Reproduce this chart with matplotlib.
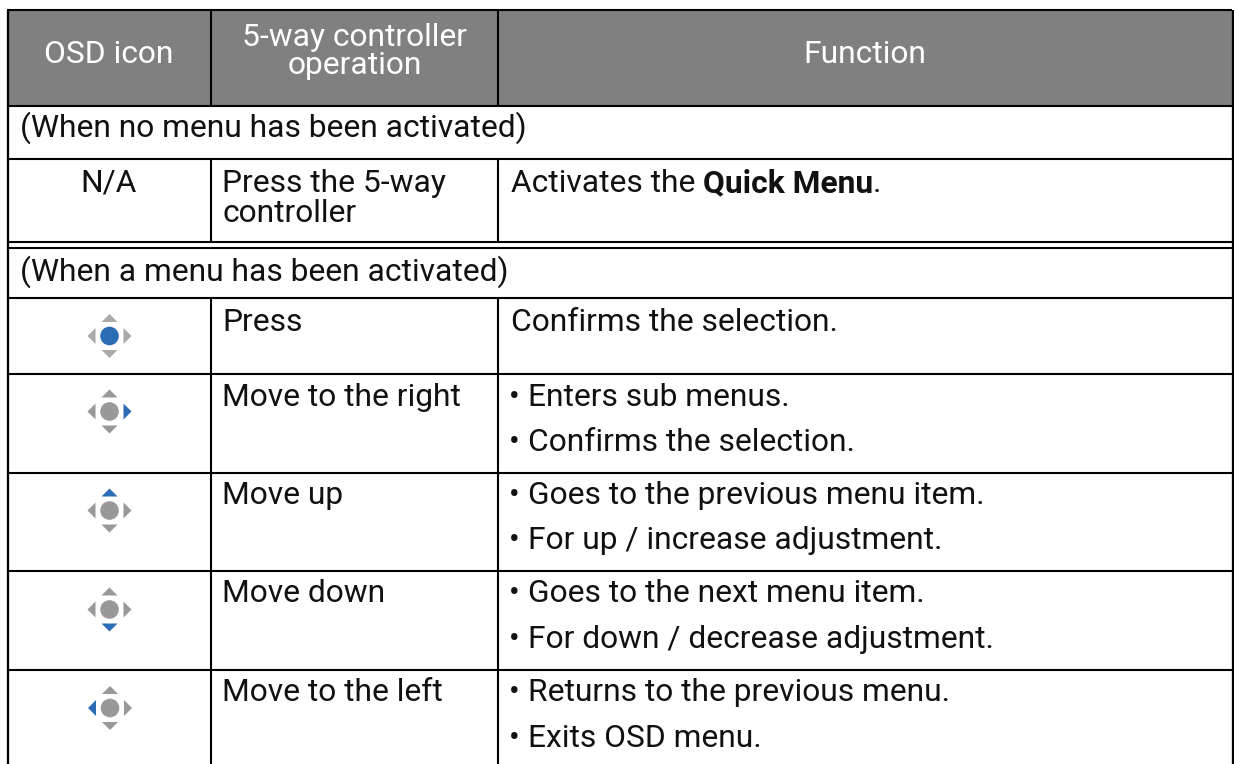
import matplotlib
matplotlib.use("Agg")
import matplotlib.pyplot as plt
from matplotlib.patches import Rectangle, Polygon, Circle

plt.rcParams["font.family"] = ["Roboto", "DejaVu Sans"]

W, H = 1234, 764
FS = 22.85

BLUE = "#2b6cb5"

# table text
header = ["OSD icon", "5-way controller\noperation", "Function"]
section_1 = "(When no menu has been activated)"
section_2 = "(When a menu has been activated)"
operations = ["Press", "Move to the right", "Move up", "Move down", "Move to the left"]
functions = [
    ["Confirms the selection."],
    ["Enters sub menus.", "Confirms the selection."],
    ["Goes to the previous menu item.", "For up / increase adjustment."],
    ["Goes to the next menu item.", "For down / decrease adjustment."],
    ["Returns to the previous menu.", "Exits OSD menu."],
]
active = ["center", "right", "up", "down", "left"]
icon_gray = ["#aaaaaa", "#999999", "#999999", "#999999", "#999999"]

# Grid
row_lines = [105.5, 159, 241.5, 248, 297.5, 374, 472.5, 570.7, 670]
col_lines = [211, 498]
op_base = [331, 405.7, 504.3, 602.3, 701]
fn_base = [[331], [405.7, 451], [504.3, 549.3], [602.3, 647.7], [701, 747]]
icon_y = [336, 411.5, 510.5, 609.5, 708]
icon_x = [109.5, 109.5, 109.5, 109.5, 110]

fig = plt.figure(figsize=(W / 100, H / 100), dpi=100, facecolor="white")
ax = fig.add_axes([0, 0, 1, 1])
ax.set_xlim(0, W)
ax.set_ylim(H, 0)
ax.axis("off")

# Header band
ax.add_patch(Rectangle((8, 10), 1224, 95.5, facecolor="#808080", edgecolor="none"))

lw = 1.5
for y in row_lines:
    ax.plot([7, 1232], [y, y], color="black", lw=lw, solid_capstyle="butt")
ax.plot([7, 1232], [10, 10], color="black", lw=lw, solid_capstyle="butt")
ax.plot([7.5, 7.5], [9.5, H], color="black", lw=lw * 1.1, solid_capstyle="butt")
ax.plot([1232.5, 1232.5], [9.5, H], color="black", lw=lw * 1.1, solid_capstyle="butt")
for x in col_lines:
    ax.plot([x, x], [10, 105.5], color="black", lw=lw, solid_capstyle="butt")
    ax.plot([x, x], [159, 241.5], color="black", lw=lw, solid_capstyle="butt")
    ax.plot([x, x], [297.5, H], color="black", lw=lw, solid_capstyle="butt")


def txt(x, y, s, color="#111111", ha="left", **kw):
    return ax.text(x, y, s, color=color, ha=ha, va="baseline", fontsize=FS, **kw)


# Header text
txt(109, 63, header[0], color="white", ha="center")
for s, y in zip(header[1].split("\n"), [46.5, 74]):
    txt(355, y, s, color="white", ha="center")
txt(865, 63, header[2], color="white", ha="center")

# Sections
txt(20, 137, section_1)
txt(20, 281, section_2)

# N/A row
txt(109, 192, "N/A", ha="center")
txt(222, 192, "Press the 5-way")
txt(222, 222.5, "controller")
txt(511, 192, "Activates the")
txt(703, 192, "Quick Menu", fontweight="bold")
txt(873, 192, ".")


def draw_icon(cx, cy, on, gray):
    c_center = BLUE if on == "center" else gray
    ax.add_patch(Circle((cx, cy), 9.3, facecolor=c_center, edgecolor="none"))
    tris = {
        "up": [(cx - 8, cy - 14), (cx + 8, cy - 14), (cx, cy - 22)],
        "down": [(cx - 8, cy + 14), (cx + 8, cy + 14), (cx, cy + 22)],
        "left": [(cx - 14, cy - 8), (cx - 14, cy + 8), (cx - 22, cy)],
        "right": [(cx + 14, cy - 8), (cx + 14, cy + 8), (cx + 22, cy)],
    }
    for k, pts in tris.items():
        ax.add_patch(Polygon(pts, closed=True, facecolor=BLUE if k == on else gray, edgecolor="none"))


for i, op in enumerate(operations):
    draw_icon(icon_x[i], icon_y[i], active[i], icon_gray[i])
    txt(222, op_base[i], op)
    lines = functions[i]
    for s, y in zip(lines, fn_base[i]):
        if len(lines) > 1:
            txt(509, y, "•")
            txt(528, y, s)
        else:
            txt(511, y, s)

fig.savefig("out.png", dpi=100)
